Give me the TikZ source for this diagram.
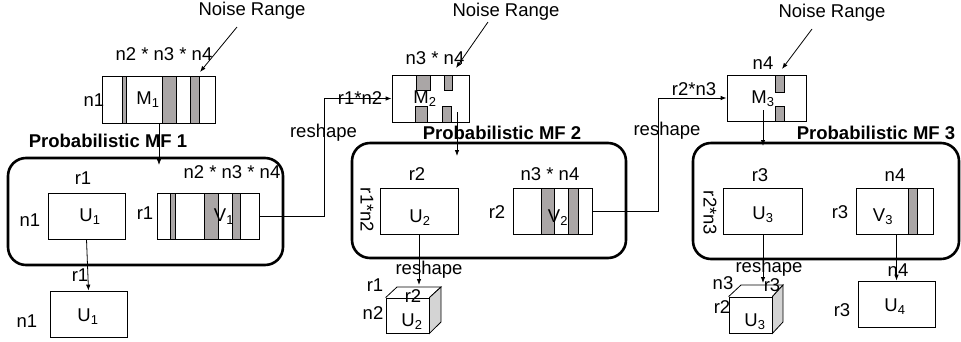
\documentclass[tikz,border=0pt]{standalone}
\usepackage{fontspec}
\setmainfont{Liberation Sans}
\usetikzlibrary{arrows.meta}
\definecolor{bandgray}{RGB}{170,166,166}
\definecolor{sidegray}{RGB}{212,212,212}
\begin{document}
\begin{tikzpicture}[x=1pt,y=-1pt,
  font=\fontsize{18.5}{20}\selectfont,
  box/.style={draw,line width=0.8pt,inner sep=0pt,minimum height=46pt},
  band/.style={draw,fill=bandgray,line width=0.8pt},
  grp/.style={draw,line width=2.6pt,rounded corners=18pt,inner sep=0pt},
  lbl/.style={inner sep=0pt},
  boldlbl/.style={inner sep=0pt,font=\fontsize{18.5}{20}\selectfont\bfseries},
  arr/.style={-{Latex[length=6pt,width=4.5pt]},line width=0.8pt},
  thin/.style={line width=0.8pt}]
\useasboundingbox (0,0) rectangle (961,341);

% ---------- group frames ----------
\node[grp,minimum width=275pt,minimum height=107pt] (G1) at (145.5,211.5) {};
\node[grp,minimum width=274pt,minimum height=115pt] (G2) at (489,200.5) {};
\node[grp,minimum width=266pt,minimum height=116pt] (G3) at (826,201) {};

% ---------- matrices ----------
\node[box,minimum width=113pt,minimum height=47pt] (M1) at (158.5,99.5) {};
\draw[band] (122,76) rectangle (126,123);
\draw[band] (162,76) rectangle (176,123);
\draw[band] (190,76) rectangle (199,123);

\node[box,minimum width=77pt,minimum height=47pt] (M2) at (430.5,98.5) {};
\draw[band] (416,75) rectangle (430,90);
\draw[band] (444,75) rectangle (452,90);
\draw[band] (415,106) rectangle (427,122);
\draw[band] (442,106) rectangle (451,122);

\node[box,minimum width=79pt] (M3) at (766.5,98) {};
\draw[band] (775,75) rectangle (784,92);
\draw[band] (775,106) rectangle (784,121);

% ---------- factors ----------
\node[box,minimum width=77pt] (U1a) at (86.5,216) {};
\node[box,minimum width=102pt] (V1) at (208,216) {};
\draw[band] (170,193) rectangle (175,239);
\draw[band] (204,193) rectangle (218,239);
\draw[band] (232,193) rectangle (240,239);
\node[box,minimum width=77pt] (U1b) at (88.5,314) {};

\node[box,minimum width=78pt] (U2) at (419,211) {};
\node[box,minimum width=79pt] (V2) at (552.5,211) {};
\draw[band] (541,188) rectangle (554,234);
\draw[band] (568,188) rectangle (578,234);

\node[box,minimum width=79pt] (U3) at (762.5,211) {};
\node[box,minimum width=77pt] (V3) at (894.5,211) {};
\draw[band] (908,188) rectangle (917,234);
\node[box,minimum width=77pt] (U4) at (896.5,304) {};

% ---------- cubes ----------
\node[box,minimum width=43pt,minimum height=35pt] (C2) at (407.5,315.5) {};
\draw[thin] (C2.north west) -- (397,287) -- (441,287) -- (C2.north east);
\draw[thin,fill=sidegray] (C2.north east) -- (441,287) -- (441,322) -- (C2.south east) -- cycle;
\node[box,minimum width=43pt,minimum height=36pt] (C3) at (750.5,315) {};
\draw[thin] (C3.north west) -- (741,285) -- (783,285) -- (C3.north east);
\draw[thin,fill=sidegray] (C3.north east) -- (783,285) -- (783,322) -- (C3.south east) -- cycle;

% ---------- labels ----------
\node[lbl] (nr1) at (252,11) {Noise Range};
\node[lbl] (nr2) at (506,12) {Noise Range};
\node[lbl] (nr3) at (832,13) {Noise Range};

\node[lbl] (t1) at (164,54) {n2 * n3 * n4};
\node[lbl] (t2) at (94,100) {n1};
\node[lbl] (t3) at (148,100) {M\textsubscript{1}};
\node[boldlbl] (t4) at (108,141) {Probabilistic MF 1};
\node[lbl] (t5) at (232,172) {n2 * n3 * n4};
\node[lbl] (t6) at (83,178) {r1};
\node[lbl] (t7) at (30,220) {n1};
\node[lbl] (t8) at (90,217) {U\textsubscript{1}};
\node[lbl] (t9) at (145,213) {r1};
\node[lbl] (t10) at (224,217) {V\textsubscript{1}};
\node[lbl] (t11) at (80,275) {r1};
\node[lbl] (t12) at (88,317) {U\textsubscript{1}};
\node[lbl] (t13) at (27,321) {n1};

\node[lbl] (s1) at (435,58) {n3 * n4};
\node[lbl] (s2) at (425,99) {M\textsubscript{2}};
\node[boldlbl] (s3) at (502,133) {Probabilistic MF 2};
\node[lbl] (s4) at (417,174) {r2};
\node[lbl] (s5) at (550,174) {n3 * n4};
\node[lbl,rotate=-90] (s6) at (367,210) {r1*n2};
\node[lbl] (s7) at (420,218) {U\textsubscript{2}};
\node[lbl] (s8) at (497,212) {r2};
\node[lbl] (s9) at (558,218) {V\textsubscript{2}};
\node[lbl] (s10) at (429,270) {reshape};
\node[lbl] (s11) at (375,285) {r1};
\node[lbl] (s12) at (413,296) {r2};
\node[lbl] (s13) at (373,313) {n2};
\node[lbl] (s14) at (412,322) {U\textsubscript{2}};
\node[lbl] (s15) at (360,98) {r1*n2};
\node[lbl] (s16) at (323.5,133) {reshape};

\node[lbl] (q1) at (763,63) {n4};
\node[lbl] (q2) at (763,99) {M\textsubscript{3}};
\node[boldlbl] (q3) at (876,133) {Probabilistic MF 3};
\node[lbl] (q4) at (760,175) {r3};
\node[lbl] (q5) at (895,175) {n4};
\node[lbl,rotate=-90] (q6) at (710,213) {r2*n3};
\node[lbl] (q7) at (763,215) {U\textsubscript{3}};
\node[lbl] (q8) at (840,212) {r3};
\node[lbl] (q9) at (883,217) {V\textsubscript{3}};
\node[lbl] (q10) at (769,268) {reshape};
\node[lbl] (q11) at (723,283) {n3};
\node[lbl] (q12) at (772,285) {r3};
\node[lbl] (q13) at (722,307) {r2};
\node[lbl] (q14) at (755,322) {U\textsubscript{3}};
\node[lbl] (q15) at (898,270) {n4};
\node[lbl] (q16) at (895,307) {U\textsubscript{4}};
\node[lbl] (q17) at (842,310) {r3};
\node[lbl] (q18) at (694,89) {r2*n3};
\node[lbl] (q19) at (667,131) {reshape};

% ---------- connector coordinates ----------
\coordinate (n1s) at (237,27);  \coordinate (n1e) at (200,72);
\coordinate (n2s) at (488,22);  \coordinate (n2e) at (456,68);
\coordinate (n3s) at (812,29);  \coordinate (n3e) at (782,69);
\coordinate (g1e) at (159,165);
\coordinate (g2s) at (457,112); \coordinate (g2e) at (457,156);
\coordinate (g3s) at (763,110); \coordinate (g3e) at (763,146);
\coordinate (k1) at (324,98.5);
\coordinate (k2) at (658,98);
\coordinate (c2e) at (419,285);
\coordinate (u3s) at (763,234); \coordinate (c3e) at (763,283);

% ---------- connectors ----------
\draw[arr] (n1s) -- (n1e);
\draw[arr] (n2s) -- (n2e);
\draw[arr] (n3s) -- (n3e);
\draw[arr] (M1.south -| g1e) -- (g1e);
\draw[arr] (g2s) -- (g2e);
\draw[arr] (g3s) -- (g3e);
\draw[arr] (V1.east) -| (k1) -- (M2.west);
\draw[arr] (V2.east) -| (k2) -- (M3.west);
\draw[arr] (U1a.south) -- (U1b.north);
\draw[arr] (U2.south) -- (c2e);
\draw[arr] (u3s) -- (c3e);
\draw[arr] (U4.north |- V3.south) -- (U4.north);
\end{tikzpicture}
\end{document}
